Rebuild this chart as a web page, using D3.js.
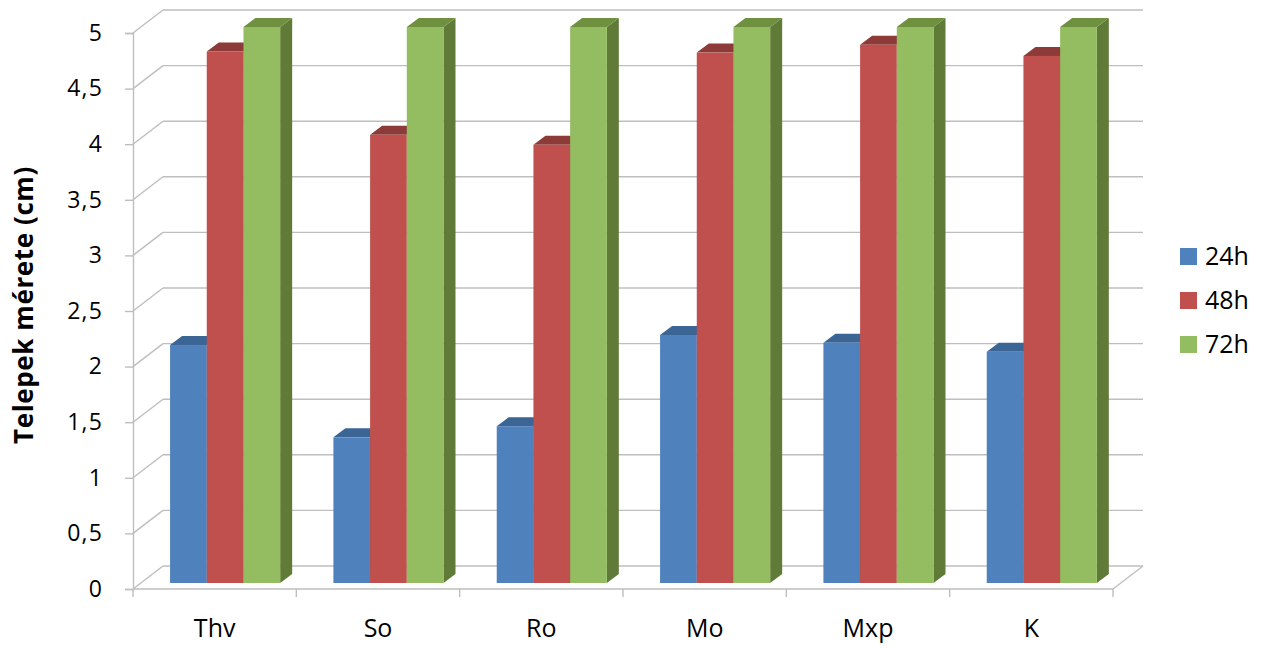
<!DOCTYPE html>
<html>
<head>
<meta charset="utf-8">
<script src="https://cdn.jsdelivr.net/npm/d3@7"></script>
<style>
  body { margin: 0; background: #fff; }
  svg { display: block; }
  text { font-family: "Open Sans", sans-serif; fill: #000; }
</style>
</head>
<body>
<svg id="chart" width="1262" height="648"></svg>
<script>
// ---- data ----
const categories = ["Thv", "So", "Ro", "Mo", "Mxp", "K"];
const seriesNames = ["24h", "48h", "72h"];
const values24h = [2.14, 1.31, 1.41, 2.23, 2.16, 2.08];
const values48h = [4.78, 4.03, 3.94, 4.77, 4.84, 4.74];
const values72h = [5, 5, 5, 5, 5, 5];
const tickValues = [0, 0.5, 1, 1.5, 2, 2.5, 3, 3.5, 4, 4.5, 5];
const tickLabels = ["0", "0,5", "1", "1,5", "2", "2,5", "3", "3,5", "4", "4,5", "5"];
const yTitle = "Telepek mérete (cm)";

const seriesValues = [values24h, values48h, values72h];
const colors = [
  { front: "#4F81BD", top: "#3A6595", side: "#35597F" },
  { front: "#C0504D", top: "#8D3B39", side: "#86302E" },
  { front: "#93BD60", top: "#6F903F", side: "#607A38" }
];

// ---- layout ----
const svg = d3.select("#chart");
const left = 133, right = 1113;
const DX = 30, DY = -23;          // wall depth offset
const BFX = 8, BFY = -6;          // bar front-face depth offset
const BDX = 12, BDY = -9;         // bar depth

const y = d3.scaleLinear().domain([0, 5]).range([589, 33]);
const x = d3.scaleBand().domain(categories).range([left, right]).padding(0);
const xs = d3.scaleBand().domain(seriesNames)
  .range([x.bandwidth() * 0.178, x.bandwidth() * 0.852]).padding(0);

const gridColor = "#BEBEBE";

// back wall gridlines + left wall diagonals
const grid = svg.append("g");
tickValues.forEach(v => {
  grid.append("line")
    .attr("x1", left + DX).attr("x2", right + DX)
    .attr("y1", y(v) + DY).attr("y2", y(v) + DY)
    .attr("stroke", gridColor).attr("stroke-width", 1.4);
  grid.append("line")
    .attr("x1", left).attr("x2", left + DX)
    .attr("y1", y(v)).attr("y2", y(v) + DY)
    .attr("stroke", gridColor).attr("stroke-width", 1.4);
});
// floor front and right edge
grid.append("line").attr("x1", left).attr("x2", right)
  .attr("y1", y(0)).attr("y2", y(0))
  .attr("stroke", gridColor).attr("stroke-width", 1.4);
grid.append("line").attr("x1", right).attr("x2", right + DX)
  .attr("y1", y(0)).attr("y2", y(0) + DY)
  .attr("stroke", gridColor).attr("stroke-width", 1.4);
// category boundary ticks
d3.range(categories.length + 1).forEach(i => {
  const xx = left + i * x.step();
  grid.append("line").attr("x1", xx).attr("x2", xx)
    .attr("y1", y(0)).attr("y2", y(0) + 8)
    .attr("stroke", gridColor).attr("stroke-width", 1.4);
});

// y axis
const yAxis = svg.append("g").attr("transform", `translate(${left},0)`)
  .call(d3.axisLeft(y).tickValues(tickValues)
    .tickFormat((d, i) => tickLabels[i]).tickSize(8).tickPadding(22));
yAxis.select(".domain").attr("stroke", gridColor).attr("stroke-width", 1.4);
yAxis.selectAll(".tick line").attr("stroke", gridColor).attr("stroke-width", 1.4);
yAxis.selectAll(".tick text").style("font-family", "Open Sans").style("font-size", "23px")
  .style("letter-spacing", "1.2px").attr("fill", "#000");

// x axis labels
const xAxis = svg.append("g").attr("transform", `translate(0,${y(0)})`)
  .call(d3.axisBottom(x).tickSize(0).tickPadding(30));
xAxis.select(".domain").remove();
xAxis.selectAll(".tick text").style("font-family", "Open Sans").style("font-size", "25px").attr("fill", "#000");

// bars
const bars = svg.append("g");
categories.forEach((c, ci) => {
  seriesNames.forEach((s, si) => {
    const v = seriesValues[si][ci];
    const x0 = x(c) + xs(s) + BFX;
    const x1 = x0 + xs.bandwidth();
    const yb = y(0) + BFY;
    const yt = y(v) + BFY;
    const col = colors[si];
    // side face
    bars.append("path")
      .attr("d", `M${x1},${yb}L${x1 + BDX},${yb + BDY}L${x1 + BDX},${yt + BDY}L${x1},${yt}Z`)
      .attr("fill", col.side);
    // top face
    bars.append("path")
      .attr("d", `M${x0},${yt}L${x1},${yt}L${x1 + BDX},${yt + BDY}L${x0 + BDX},${yt + BDY}Z`)
      .attr("fill", col.top);
    // front face
    bars.append("rect")
      .attr("x", x0).attr("y", yt)
      .attr("width", xs.bandwidth()).attr("height", yb - yt)
      .attr("fill", col.front);
  });
});

// y title
svg.append("text")
  .attr("transform", `translate(33,305) rotate(-90)`)
  .attr("text-anchor", "middle")
  .style("font-size", "26px").style("font-weight", "bold")
  .style("letter-spacing", "0.6px")
  .text(yTitle);

// legend
const legend = svg.append("g");
seriesNames.forEach((s, i) => {
  const cy = 256 + i * 44;
  legend.append("rect").attr("x", 1180).attr("y", cy - 8)
    .attr("width", 17).attr("height", 17).attr("fill", colors[i].front);
  legend.append("text").attr("x", 1205).attr("y", cy)
    .attr("dy", "0.36em").style("font-size", "25px").text(s);
});
</script>
</body>
</html>
